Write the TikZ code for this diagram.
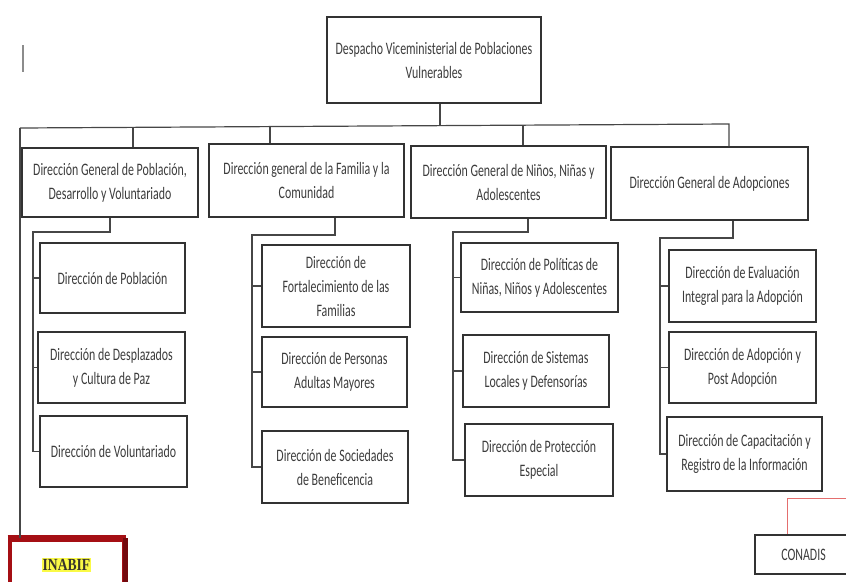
\documentclass[tikz,border=0pt]{standalone}
\usepackage{fontspec}
\newfontfamily\boxfont[FakeStretch=0.68]{Carlito}
\newfontfamily\tagfont[FakeStretch=0.8]{Liberation Serif}
\usetikzlibrary{positioning}
\definecolor{framegray}{RGB}{50,50,50}
\definecolor{linkgray}{RGB}{70,70,70}
\definecolor{textgray}{RGB}{60,60,60}
\definecolor{inabifred}{RGB}{165,15,20}
\definecolor{conadisred}{RGB}{228,110,110}
\definecolor{marker}{RGB}{250,250,70}
\tikzset{
 unit/.style={draw=framegray, line width=1.4pt, fill=white, align=center, inner sep=1pt, text=textgray, font=\boxfont\fontsize{17.5}{24}\selectfont},
 link/.style={draw=linkgray, line width=1.2pt},
 inabifbox/.style={draw=inabifred, line width=4pt, fill=white, align=center, text=black!80!olive, font=\tagfont\bfseries\fontsize{17}{18}\selectfont},
}

\begin{document}
\begin{tikzpicture}[x=1pt,y=-1pt]
 \clip (0,0) rectangle (846,581); 
 \node[unit, minimum width=214, minimum height=86] (top) at (434,60) {Despacho Viceministerial de Poblaciones\\Vulnerables}; 
 \node[unit, minimum width=176, minimum height=69] (dg1) at (110,182.5) {Dirección General de Población,\\Desarrollo y Voluntariado}; 
 \node[unit, minimum width=195, minimum height=73] (dg2) at (306.5,180.5) {Dirección general de la Familia y la\\Comunidad}; 
 \node[unit, minimum width=195, minimum height=72] (dg3) at (508.5,182) {Dirección General de Niños, Niñas y\\Adolescentes}; 
 \node[unit, minimum width=197, minimum height=73] (dg4) at (709.5,183.5) {Dirección General de Adopciones}; 
 \node[unit, minimum width=145, minimum height=70] (d11) at (112.5,278) {Dirección de Población}; 
 \node[unit, minimum width=147, minimum height=71] (d12) at (111.5,367.5) {Dirección de Desplazados\\y Cultura de Paz}; 
 \node[unit, minimum width=147, minimum height=71] (d13) at (113.5,451.5) {Dirección de Voluntariado}; 
 \node[unit, minimum width=148, minimum height=82] (d21) at (336,286) {Dirección de\\Fortalecimiento de las\\Familias}; 
 \node[unit, minimum width=145, minimum height=70] (d22) at (334.5,372) {Dirección de Personas\\Adultas Mayores}; 
 \node[unit, minimum width=146, minimum height=72] (d23) at (335,467) {Dirección de Sociedades\\de Beneficencia}; 
 \node[unit, minimum width=157, minimum height=69] (d31) at (539.5,277.5) {Dirección de Políticas de\\Niñas, Niños y Adolescentes}; 
 \node[unit, minimum width=146, minimum height=72] (d32) at (536,371) {Dirección de Sistemas\\Locales y Defensorías}; 
 \node[unit, minimum width=148, minimum height=72] (d33) at (539,460) {Dirección de Protección\\Especial}; 
 \node[unit, minimum width=147, minimum height=72] (d41) at (742.5,286) {Dirección de Evaluación\\Integral para la Adopción}; 
 \node[unit, minimum width=147, minimum height=71] (d42) at (742.5,367.5) {Dirección de Adopción y\\Post Adopción}; 
 \node[unit, minimum width=155, minimum height=74] (d43) at (744.5,454) {Dirección de Capacitación y\\Registro de la Información}; 
 \node[unit, line width=1.2pt, minimum width=97, minimum height=39] (con) at (803.5,554.5) {CONADIS}; 
 \node[inabifbox, minimum width=114, minimum height=54] (ina) at (66.5,567) {\raisebox{5pt}{\setlength{\fboxsep}{1pt}\colorbox{marker}{INABIF}}}; 
 \draw[inabifred, line width=7pt] (ina.north west) -- (ina.north east); 
 \draw[inabifred!70!black, line width=5pt] (ina.north east) -- (ina.south east); 
 \coordinate (bL) at (20,128); 
 \coordinate (bR) at (729,124); 
 \coordinate (st) at (440,125.6); 
 \coordinate (b1) at (133,127.4); 
 \coordinate (b2) at (270,126.6); 
 \coordinate (b3) at (523,125.2); 
 \coordinate (k1) at (110,232); 
 \coordinate (s1) at (33,232); 
 \coordinate (k2) at (335,235); 
 \coordinate (s2) at (252,235); 
 \coordinate (k3) at (528,232); 
 \coordinate (s3) at (453,232); 
 \coordinate (k4) at (733,238); 
 \coordinate (s4) at (660,238); 
 \coordinate (r0) at (846,498); 
 \coordinate (r1) at (787,498); 
 \draw[link, draw=black!45] (23,45) -- (23,72); 
 \draw[link] (st |- top.south) -- (st); 
 \draw[link] (bL) -- (bR) -- (bR |- dg4.north); 
 \draw[link] (bL) -- (bL |- ina.north); 
 \draw[link] (b1) -- (b1 |- dg1.north); 
 \draw[link] (b2) -- (b2 |- dg2.north); 
 \draw[link] (b3) -- (b3 |- dg3.north); 
 \draw[link] (k1 |- dg1.south) -- (k1) -- (s1) |- (d13.west); 
 \draw[link] (s1 |- d11.west) -- (d11.west); 
 \draw[link] (s1 |- d12.west) -- (d12.west); 
 \draw[link] (k2 |- dg2.south) -- (k2) -- (s2) |- (d23.west); 
 \draw[link] (s2 |- d21.west) -- (d21.west); 
 \draw[link] (s2 |- d22.west) -- (d22.west); 
 \draw[link] (k3 |- dg3.south) -- (k3) -- (s3) |- (d33.west); 
 \draw[link] (s3 |- d31.west) -- (d31.west); 
 \draw[link] (s3 |- d32.west) -- (d32.west); 
 \draw[link] (k4 |- dg4.south) -- (k4) -- (s4) |- (d43.west); 
 \draw[link] (s4 |- d41.west) -- (d41.west); 
 \draw[link] (s4 |- d42.west) -- (d42.west); 
 \draw[conadisred, line width=1pt] (r0) -- (r1) -- (r1 |- con.north); 
\end{tikzpicture}
\end{document}
